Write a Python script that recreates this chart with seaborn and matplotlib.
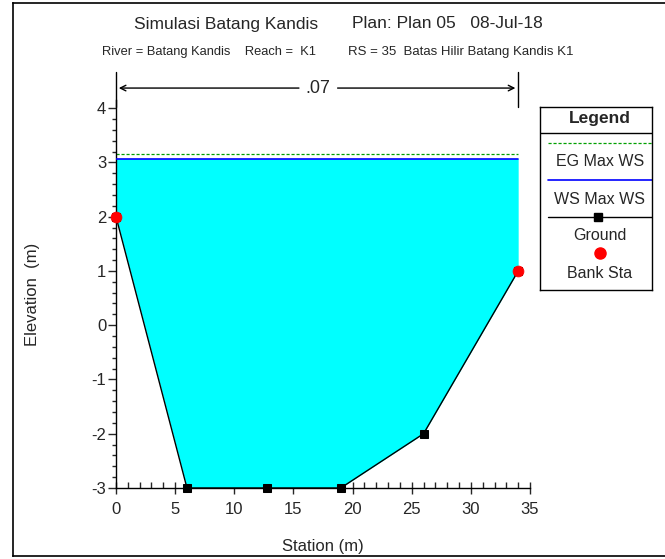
import numpy as np
import pandas as pd
import seaborn as sns
import matplotlib.pyplot as plt
from matplotlib.ticker import MultipleLocator

plt.switch_backend('Agg')

# cross-section data
station = [0, 6, 12.8, 19, 26, 34]
elevation = [2, -3, -3, -3, -2, 1]
bank_station = [0, 34]
bank_elev = [2, 1]
ws_elev = 3.07
eg_elev = 3.16
n_value = ".07"

sns.set_style("ticks")
plt.rcParams['font.family'] = ['Liberation Sans', 'DejaVu Sans']
plt.rcParams['axes.unicode_minus'] = False

fig = plt.figure(figsize=(6.65, 5.59), dpi=100)
ax = fig.add_axes([116 / 665, 1 - 488 / 559, 414 / 665, 388 / 559])

ground = pd.DataFrame({'station': station, 'elevation': elevation})

# water area
ax.fill_between(station, elevation, ws_elev, color='#00FFFF', linewidth=0, zorder=1)
ax.plot([station[0], station[-1]], [eg_elev, eg_elev], color='#00A000', ls=(0, (2.5, 1.5)), lw=0.9, zorder=2)
ax.plot([station[0], station[-1]], [ws_elev, ws_elev], color='#0000FF', lw=1.2, zorder=3)

sns.lineplot(data=ground, x='station', y='elevation', color='black', lw=1,
             marker='s', markersize=6, markeredgecolor='black', sort=False, ax=ax,
             zorder=4, clip_on=False)
sns.scatterplot(x=bank_station, y=bank_elev, color='red', s=60, edgecolor='red', ax=ax, zorder=5, clip_on=False)

ax.set_xlim(0, 35)
ax.set_ylim(-3, 4.15)
ax.xaxis.set_major_locator(MultipleLocator(5))
ax.xaxis.set_minor_locator(MultipleLocator(1))
ax.yaxis.set_major_locator(MultipleLocator(1))
ax.yaxis.set_minor_locator(MultipleLocator(0.2))
ax.tick_params(axis='x', which='major', direction='inout', length=8, width=1, labelsize=12, pad=6)
ax.tick_params(axis='x', which='minor', direction='in', length=4, width=1)
ax.tick_params(axis='y', which='major', direction='out', length=6, width=1, labelsize=12, pad=1)
ax.tick_params(axis='y', which='minor', direction='out', length=3, width=1)
for s in ['top', 'right']:
    ax.spines[s].set_visible(False)
for s in ['left', 'bottom']:
    ax.spines[s].set_color('black')
    ax.spines[s].set_linewidth(1)
ax.set_xlabel('Station (m)', fontsize=12, labelpad=16)
ax.set_ylabel('Elevation  (m)', fontsize=12, labelpad=37)

# n-value dimension line
y_arrow = 4.37
for xs in [station[0], station[-1]]:
    ax.plot([xs, xs], [4.03, 4.66], color='black', lw=1, clip_on=False)
ax.annotate('', xy=(station[0], y_arrow), xytext=(15.7, y_arrow),
            arrowprops=dict(arrowstyle='->', color='black', lw=1), annotation_clip=False)
ax.annotate('', xy=(station[-1], y_arrow), xytext=(18.5, y_arrow),
            arrowprops=dict(arrowstyle='->', color='black', lw=1), annotation_clip=False)
ax.text(17.1, y_arrow, n_value, ha='center', va='center', fontsize=13)

# titles
fig.text(226 / 665, 1 - 24 / 559, 'Simulasi Batang Kandis', ha='center', va='center', fontsize=12.5)
fig.text(447 / 665, 1 - 24 / 559, 'Plan: Plan 05   08-Jul-18', ha='center', va='center', fontsize=12.5)
fig.text(102 / 665, 1 - 52 / 559, 'River = Batang Kandis    Reach =  K1', ha='left', va='center', fontsize=9.3)
fig.text(348 / 665, 1 - 52 / 559, 'RS = 35  Batas Hilir Batang Kandis K1', ha='left', va='center', fontsize=9.5)

# figure border
border = fig.add_axes([13 / 665, 3 / 559, 700 / 665, 553 / 559], zorder=-1)
border.set_xticks([])
border.set_yticks([])
border.patch.set_alpha(0)
for s in border.spines.values():
    s.set_color('black')
    s.set_linewidth(1.2)

# legend box
lg = fig.add_axes([540 / 665, 1 - 290 / 559, 112 / 665, 183 / 559])
lg.set_xlim(540, 652)
lg.set_ylim(290, 107)
lg.set_xticks([])
lg.set_yticks([])
for s in lg.spines.values():
    s.set_color('black')
    s.set_linewidth(1)
lg.text(600, 119, 'Legend', ha='center', va='center', fontsize=12.5, fontweight='bold')
lg.plot([540, 652], [133, 133], color='black', lw=1)
lg.plot([548, 652], [143, 143], color='#00A000', ls=(0, (2.5, 1.5)), lw=0.9)
lg.text(600, 162, 'EG Max WS', ha='center', va='center', fontsize=11.5)
lg.plot([548, 652], [180, 180], color='#0000FF', lw=1.2)
lg.text(600, 199, 'WS Max WS', ha='center', va='center', fontsize=11.5)
lg.plot([548, 652], [217, 217], color='black', lw=1)
lg.plot([598], [217], marker='s', color='black', markersize=6)
lg.text(600, 235, 'Ground', ha='center', va='center', fontsize=11.5)
lg.plot([600], [253], marker='o', color='red', markersize=8)
lg.text(600, 274, 'Bank Sta', ha='center', va='center', fontsize=11.5)

fig.savefig('out.png', dpi=100)
